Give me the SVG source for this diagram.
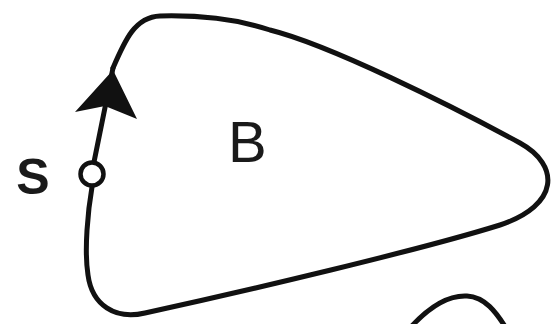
<svg xmlns="http://www.w3.org/2000/svg" width="553" height="324" viewBox="0 0 553 324">
<style>
.ln{fill:none;stroke:#111;stroke-width:5;stroke-linecap:round;stroke-linejoin:round}
.lbl{font-family:"Liberation Sans",Arial,sans-serif;fill:#1a1a1a}
</style>
<rect width="553" height="324" fill="#fff"/>
<g id="region-B">
<path class="ln" d="M 92,187 C 88,210 84,250 88,275 C 92,305 115,320 145,313 C 250,290 420,250 500,225 C 560,205 560,165 520,143 C 450,105 330,45 270,30 C 240,20 200,15 160,16 C 135,17 125,40 113,68"/>
<text class="lbl" x="228" y="162" font-size="58" fill="#2a2a2a">B</text>
</g>
<g id="point-S">
<circle cx="92" cy="174" r="11.5" fill="#fff" stroke="#111" stroke-width="4.5"/>
<text class="lbl" x="33" y="194" font-size="50" font-weight="bold" text-anchor="middle">S</text>
</g>
<g id="other-curve">
<path class="ln" d="M 410,328 C 428,308 448,295 467,296 C 485,297 496,312 506,328"/>
</g>
<g id="connectors">
<path class="ln" d="M 94,162 L 113,68"/>
<polygon points="113,70 137,119 105,106 75,112" fill="#111"/>
</g>
</svg>
